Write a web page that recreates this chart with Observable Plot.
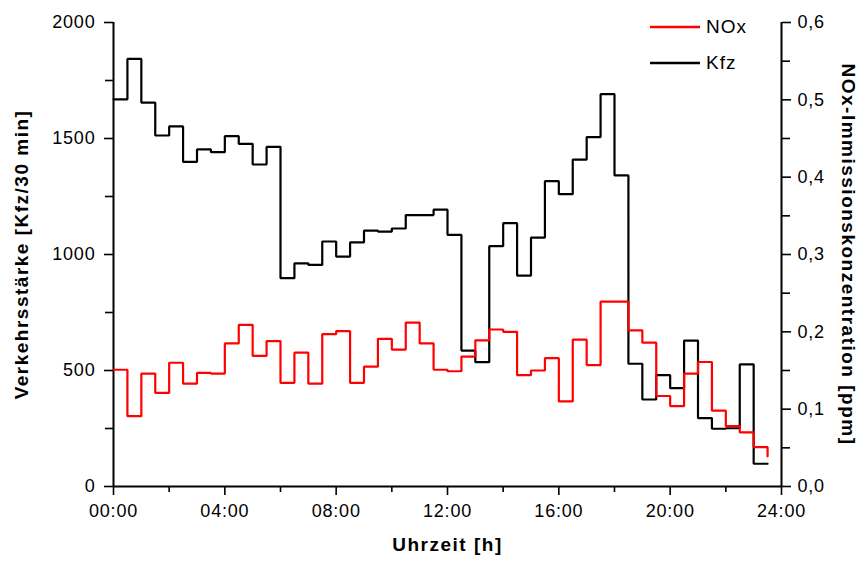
<!DOCTYPE html>
<html>
<head>
<meta charset="utf-8">
<script src="https://cdn.jsdelivr.net/npm/d3@7"></script>
<script src="https://cdn.jsdelivr.net/npm/@observablehq/plot@0.6"></script>
<style>
  html, body { margin: 0; padding: 0; background: #fff; }
  #chart { position: relative; width: 862px; height: 564px; }
  #chart svg text { letter-spacing: 0.8px; }
  #chart svg g[aria-label="text"] text { letter-spacing: 1.5px; }
  #legend { position: absolute; left: 650px; top: 9px; font-family: "Liberation Sans", Arial, sans-serif; font-size: 19px; letter-spacing: 1px; }
  #legend .item { display: flex; align-items: center; height: 36px; }
  #legend svg { margin-right: 6px; }
</style>
</head>
<body>
<div id="chart"><div id="legend"></div></div>
<script>
// Half-hour intervals over one day (hours since midnight)
const hours = d3.range(0, 24, 0.5);

// Traffic volume, vehicles per 30 min
const kfz = [
  1669, 1843, 1655, 1513, 1552, 1399, 1453, 1441, 1510, 1477, 1388, 1464,
  898, 962, 955, 1056, 991, 1052, 1103, 1099, 1112, 1170, 1170, 1193,
  1085, 586, 536, 1036, 1135, 909, 1073, 1316, 1260, 1409, 1506, 1691,
  1341, 529, 375, 480, 424, 629, 295, 249, 251, 526, 98, 98
];

// NOx immission concentration, ppm
const nox = [
  0.151, 0.091, 0.146, 0.121, 0.160, 0.133, 0.147, 0.146, 0.185, 0.209, 0.169, 0.188,
  0.134, 0.173, 0.133, 0.197, 0.201, 0.134, 0.155, 0.191, 0.177, 0.212, 0.185, 0.151,
  0.149, 0.168, 0.189, 0.203, 0.200, 0.144, 0.150, 0.166, 0.110, 0.190, 0.157, 0.239,
  0.239, 0.202, 0.186, 0.117, 0.104, 0.146, 0.161, 0.098, 0.078, 0.070, 0.051, 0.039
];

// Axis ticks
const xTicks = [0, 4, 8, 12, 16, 20, 24];
const xTickLabels = ["00:00", "04:00", "08:00", "12:00", "16:00", "20:00", "24:00"];
const xMinorTicks = [2, 6, 10, 14, 18, 22];
const yLeftTicks = [0, 500, 1000, 1500, 2000];
const yLeftMinorTicks = [250, 750, 1250, 1750];
const yRightTicks = [0, 0.1, 0.2, 0.3, 0.4, 0.5, 0.6];
const yRightMinorTicks = [0.05, 0.15, 0.25, 0.35, 0.45, 0.55];

const series = [
  {name: "NOx", color: "red"},
  {name: "Kfz", color: "black"}
];

// NOx is drawn on the Kfz scale: 0.6 ppm ↔ 2000 Kfz
const k = 2000 / 0.6;
const rows = hours.map((h, i) => ({h, kfz: kfz[i], nox: nox[i] * k}));

const font = `"Liberation Sans", Arial, sans-serif`;
const noLabel = () => "";

const chart = Plot.plot({
  width: 862,
  height: 564,
  marginLeft: 113,
  marginRight: 81,
  marginTop: 22,
  marginBottom: 78,
  style: {fontFamily: font, fontSize: "18px", color: "black", background: "white", overflow: "visible"},
  x: {domain: [0, 24]},
  y: {domain: [0, 2000]},
  marks: [
    // bottom axis
    Plot.axisX(xMinorTicks, {anchor: "bottom", tickSize: 6, tickFormat: noLabel, label: null, strokeWidth: 1.6}),
    Plot.axisX(xTicks, {anchor: "bottom", tickSize: 9, tickPadding: 9, label: null, strokeWidth: 1.6,
      tickFormat: (d) => xTickLabels[xTicks.indexOf(d)]}),
    // left axis
    Plot.axisY(yLeftMinorTicks, {anchor: "left", tickSize: 8, tickFormat: noLabel, label: null, strokeWidth: 1.6}),
    Plot.axisY(yLeftTicks, {anchor: "left", tickSize: 9, tickPadding: 9, label: null, strokeWidth: 1.6,
      tickFormat: (d) => String(d)}),
    // right axis (ppm)
    Plot.axisY(yRightMinorTicks.map((v) => v * k), {anchor: "right", tickSize: 8, tickFormat: noLabel, label: null, strokeWidth: 1.6}),
    Plot.axisY(yRightTicks.map((v) => v * k), {anchor: "right", tickSize: 9, tickPadding: 7, label: null, strokeWidth: 1.6,
      tickFormat: (d) => (d / k).toFixed(1).replace(".", ",")}),
    // axis lines
    Plot.ruleX([0, 24], {stroke: "black", strokeWidth: 2}),
    Plot.ruleY([0], {stroke: "black", strokeWidth: 2}),
    // data
    Plot.line(rows, {x: "h", y: "kfz", curve: "step-after", stroke: "black", strokeWidth: 2.2, strokeLinejoin: "miter"}),
    Plot.line(rows, {x: "h", y: "nox", curve: "step-after", stroke: "red", strokeWidth: 2.2, strokeLinejoin: "miter"}),
    // axis titles
    Plot.text(["Verkehrsstärke [Kfz/30 min]"], {frameAnchor: "left", textAnchor: "middle", rotate: -90, dx: -92, fontWeight: "bold", fontSize: 19}),
    Plot.text(["NOx-Immissionskonzentration [ppm]"], {frameAnchor: "right", textAnchor: "middle", rotate: 90, dx: 67, fontWeight: "bold", fontSize: 19}),
    Plot.text(["Uhrzeit [h]"], {frameAnchor: "bottom", dy: 64, fontWeight: "bold", fontSize: 19})
  ]
});

const container = document.getElementById("chart");
container.insertBefore(chart, container.firstChild);

// legend inside the plot area, top right
const legend = d3.select("#legend");
for (const s of series) {
  const item = legend.append("div").attr("class", "item");
  item.append("svg").attr("width", 50).attr("height", 6)
    .append("line").attr("x1", 0).attr("x2", 50).attr("y1", 3).attr("y2", 3)
    .attr("stroke", s.color).attr("stroke-width", 2.5);
  item.append("span").text(s.name);
}
</script>
</body>
</html>
